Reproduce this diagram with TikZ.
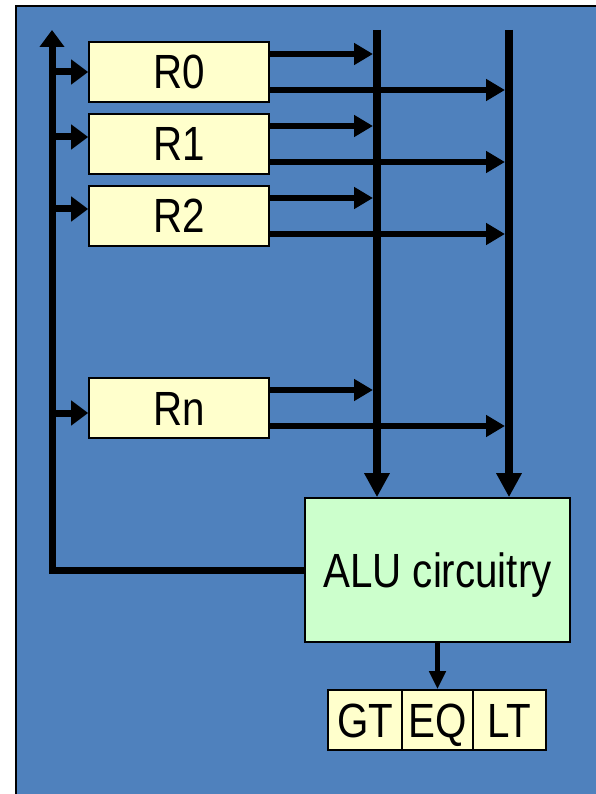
\documentclass[tikz,border=0pt]{standalone}
\usepackage{fontspec}
\setmainfont{Liberation Sans}
\newfontfamily\diagfont[FakeStretch=0.84]{Liberation Sans}
\usetikzlibrary{arrows.meta}
\definecolor{bgblue}{RGB}{79,129,189}
\definecolor{regfill}{RGB}{255,255,204}
\definecolor{alufill}{RGB}{204,255,204}
\begin{document}
\begin{tikzpicture}[x=1pt,y=-1pt,
  box/.style={draw=black,line width=1.6pt,inner sep=0pt,
    text height=34pt,text depth=0pt,
    font=\diagfont\fontsize{48}{50}\selectfont},
  reg/.style={box,fill=regfill,minimum width=180pt,minimum height=60pt},
  flag/.style={box,fill=regfill,minimum height=60pt},
  alubox/.style={box,fill=alufill,minimum width=265pt,minimum height=144pt},
  buswire/.style={line width=8pt,-{Triangle[width=24pt,length=24pt]}},
  feedback/.style={line width=7pt,-{Triangle[width=24pt,length=17pt]}},
  branch/.style={line width=7pt,-{Triangle[width=24pt,length=17pt]}},
  outwire/.style={line width=6pt,-{Triangle[width=21pt,length=19pt]}},
  flagwire/.style={line width=4.5pt,-{Triangle[width=16pt,length=18pt]}}
]
\useasboundingbox (0,0) rectangle (596,794);
\clip (0,0) rectangle (596,794);
\draw[fill=bgblue,line width=1.5pt] (16,6) rectangle (620,820);

% registers
\node[reg] (r0) at (179,72) {R0};
\node[reg] (r1) at (179,144) {R1};
\node[reg] (r2) at (179,216) {R2};
\node[reg] (rn) at (179,408) {Rn};

% ALU and flags
\node[alubox] (alu) at (437.5,570) {ALU circuitry};
\node[flag,minimum width=74pt] (gt) at (365,720) {GT};
\node[flag,minimum width=71pt] (eq) at (437.5,720) {EQ};
\node[flag,minimum width=73pt] (lt) at (509.5,720) {LT};

% bus coordinates
\coordinate (atop) at (377,30);
\coordinate (btop) at (509,30);
\coordinate (aedge) at (373,30);
\coordinate (bedge) at (505,30);
\coordinate (ltop) at (52,30);

% vertical buses into ALU
\draw[buswire] (atop) -- (atop |- alu.north);
\draw[buswire] (btop) -- (btop |- alu.north);

% feedback bus from ALU
\draw[feedback] (alu.west) -| (ltop);

% branches into registers
\coordinate (i0) at (r0.west);
\coordinate (i1) at ([yshift=7pt]r1.west);
\coordinate (i2) at ([yshift=7pt]r2.west);
\coordinate (in) at ([yshift=-5pt]rn.west);
\foreach \c in {i0,i1,i2,in}
  \draw[branch] (ltop |- \c) -- (\c);

% register outputs
\foreach \r in {r0,r1,r2,rn}{
  \coordinate (\r u) at ([yshift=18pt]\r.east);
  \coordinate (\r d) at ([yshift=-18pt]\r.east);
  \draw[outwire] (\r u) -- (aedge |- \r u);
  \draw[outwire] (\r d) -- (bedge |- \r d);
}

% ALU to flags
\draw[flagwire] (alu.south) -- (eq.north);
\end{tikzpicture}
\end{document}
